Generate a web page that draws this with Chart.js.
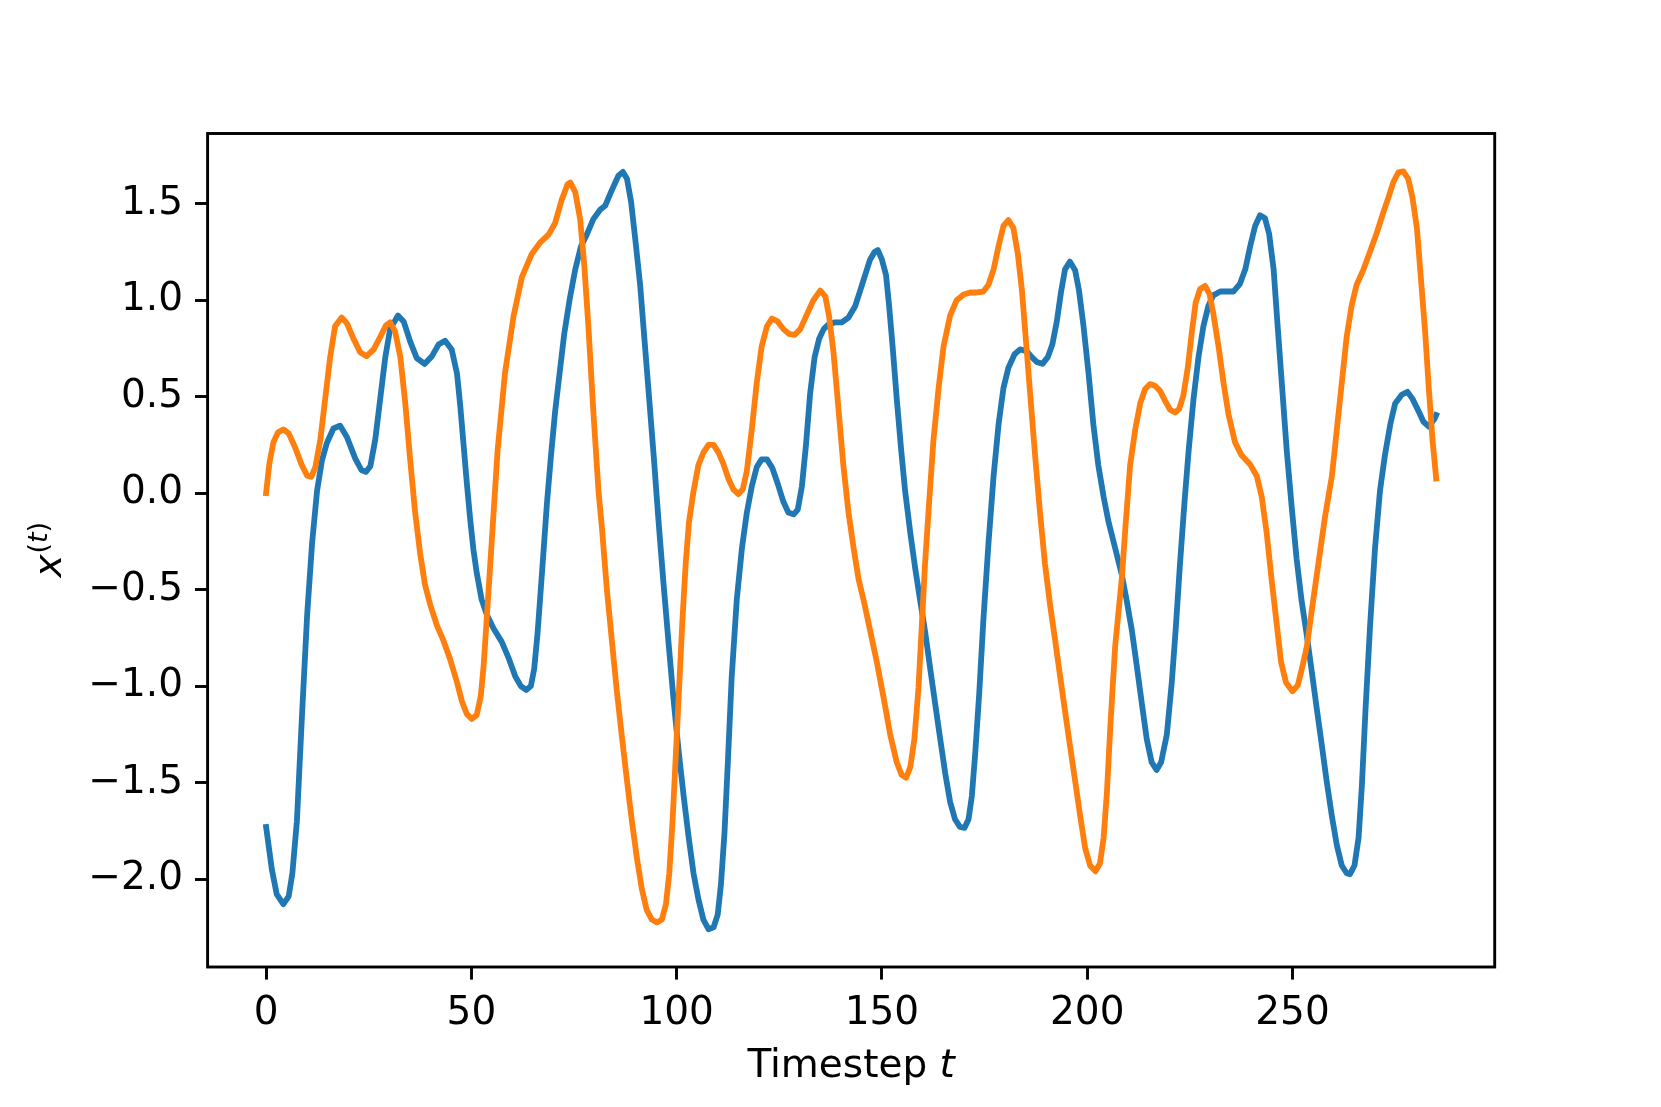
<!DOCTYPE html>
<html>
<head>
<meta charset="utf-8">
<title>x(t) per timestep</title>
<script src="https://cdn.jsdelivr.net/npm/chart.js@4.4.1/dist/chart.umd.min.js"></script>
<style>
  html, body { margin: 0; padding: 0; background: #ffffff; }
  canvas { display: block; }
</style>
</head>
<body>
<canvas id="chart" width="1661" height="1107"></canvas>
<script>
/**
 * Two trajectories x(t).
 * Each series is a list of timesteps and a list of values at those timesteps.
 */
const xTicks = [0, 50, 100, 150, 200, 250];
const yTicks = [-2.0, -1.5, -1.0, -0.5, 0.0, 0.5, 1.0, 1.5];

const blueT = [
  0, 1.4, 2.6, 4.2, 5.5, 6.4, 7.5, 8.7, 10.0, 11.2, 12.4, 13.6, 14.8, 16.4, 18.0, 19.7,
  21.7, 23.2, 24.3, 25.4, 26.6, 27.8, 29.0, 30.2, 32.1, 33.5, 35.1, 36.7, 38.6, 40.4,
  42.0, 43.6, 45.2, 46.5, 47.3, 48.1, 48.9, 49.7, 50.5, 51.3, 52.5, 53.8, 55.4, 57.4,
  59.0, 60.7, 62.05, 63.35, 64.5, 65.3, 66.1, 66.8, 67.6, 68.4, 69.35, 70.4, 71.5, 72.6,
  73.9, 75.3, 76.7, 78.1, 79.7, 81.4, 82.6, 84.2, 85.8, 86.9, 87.9, 88.9, 89.9, 91.1,
  91.9, 93.1, 94.4, 95.6, 96.8, 98.0, 99.2, 100.45, 101.7, 102.9, 104.1, 105.3, 106.5,
  107.75, 109.0, 110.0, 110.8, 111.65, 112.5, 113.4, 114.65, 115.9, 117.1, 118.3, 119.5,
  120.7, 122.0, 123.3, 124.6, 126.0, 127.2, 128.5, 129.5, 130.5, 131.5, 132.5, 133.6,
  134.7, 135.8, 137.0, 138.6, 140.2, 141.85, 143.5, 144.7, 145.9, 147.1, 148.2, 149.0,
  150.0, 151.0, 151.75, 152.6, 153.6, 154.7, 155.65, 156.9, 158.1, 159.3, 160.5, 161.7,
  162.95, 164.2, 165.4, 166.6, 167.8, 169.0, 170.1, 171.1, 171.9, 172.7, 173.7, 174.7,
  175.95, 177.2, 178.4, 179.6, 180.8, 182.3, 183.65, 185.3, 186.5, 187.7, 189.1, 190.4,
  191.5, 192.6, 193.6, 194.6, 195.8, 197.05, 198.0, 199.1, 200.3, 201.5, 202.7, 204.0,
  205.2, 206.8, 208.4, 209.6, 210.9, 212.1, 213.3, 214.5, 215.7, 216.9, 218.0, 219.4,
  220.6, 221.6, 222.6, 223.7, 224.7, 225.9, 227.1, 228.3, 229.5, 230.7, 232.4, 234.0,
  235.6, 237.2, 238.5, 239.7, 240.9, 242.1, 243.3, 244.3, 245.4, 246.3, 247.4, 248.6,
  249.8, 251.0, 252.2, 253.5, 254.7, 255.9, 257.1, 258.3, 259.6, 260.8, 262.0, 263.2,
  264.0, 265.1, 266.1, 266.9, 267.8, 268.9, 270.1, 271.3, 272.5, 273.8, 275.0, 276.6,
  278.0, 279.2, 280.7, 281.9, 283.2, 284.6, 285.0
];
const blueX = [
  -1.73, -1.95, -2.08, -2.13, -2.09, -1.97, -1.70, -1.17, -0.63, -0.26, 0.01, 0.17, 0.26, 0.335, 0.35, 0.29,
  0.18, 0.12, 0.11, 0.14, 0.28, 0.49, 0.70, 0.85, 0.92, 0.89, 0.785, 0.70, 0.67, 0.71,
  0.77, 0.79, 0.745, 0.62, 0.45, 0.25, 0.05, -0.134, -0.293, -0.413, -0.552, -0.632, -0.702, -0.771,
  -0.851, -0.95, -1.0, -1.02, -1.0, -0.91, -0.73, -0.53, -0.293, -0.054, 0.185, 0.424, 0.624, 0.823,
  1.0, 1.16, 1.28, 1.34, 1.42, 1.47, 1.49, 1.57, 1.645, 1.665, 1.63, 1.51, 1.32, 1.08,
  0.865, 0.545, 0.195, -0.15, -0.47, -0.77, -1.06, -1.33, -1.57, -1.78, -1.97, -2.105, -2.21,
  -2.26, -2.25, -2.185, -2.025, -1.76, -1.38, -0.955, -0.55, -0.285, -0.10, 0.035, 0.135,
  0.175, 0.175, 0.13, 0.05, -0.045, -0.10, -0.11, -0.085, 0.035, 0.25, 0.515, 0.705,
  0.80, 0.85, 0.875, 0.885, 0.885, 0.91, 0.97, 1.05, 1.13, 1.21, 1.25, 1.26,
  1.21, 1.13, 0.97, 0.76, 0.49, 0.22, 0.01, -0.205, -0.39, -0.555, -0.715, -0.90,
  -1.09, -1.275, -1.45, -1.60, -1.69, -1.73, -1.735, -1.69, -1.57, -1.355, -1.035, -0.66,
  -0.26, 0.09, 0.355, 0.545, 0.65, 0.72, 0.745, 0.735, 0.705, 0.68, 0.67, 0.705,
  0.77, 0.89, 1.04, 1.16, 1.20, 1.155, 1.05, 0.865, 0.625, 0.355, 0.145, -0.02,
  -0.15, -0.285, -0.42, -0.555, -0.715, -0.90, -1.09, -1.275, -1.395, -1.435, -1.395, -1.25,
  -0.98, -0.69, -0.365, -0.045, 0.22, 0.49, 0.705, 0.865, 0.97, 1.025, 1.045, 1.045,
  1.045, 1.085, 1.16, 1.28, 1.385, 1.44, 1.425, 1.345, 1.16, 0.89, 0.57, 0.22,
  -0.07, -0.34, -0.555, -0.74, -0.925, -1.115, -1.30, -1.49, -1.675, -1.825, -1.93, -1.97,
  -1.975, -1.93, -1.785, -1.515, -1.115, -0.685, -0.285, 0.01, 0.195, 0.355, 0.465, 0.51,
  0.525, 0.49, 0.425, 0.37, 0.345, 0.385, 0.405
];

const orangeT = [
  0, 0.8, 1.8, 2.9, 4.2, 5.5, 7.1, 8.7, 10.0, 11.0, 12.0, 13.2, 14.4, 15.6, 16.8, 18.4,
  19.7, 21.3, 22.9, 24.5, 26.2, 27.8, 29.2, 30.2, 31.4, 32.7, 33.9, 35.1, 36.3, 37.5,
  38.7, 40.0, 41.6, 43.2, 44.8, 46.5, 47.7, 48.9, 50.1, 51.3, 52.3, 53.0, 53.8, 55.2,
  56.4, 58.2, 60.3, 62.3, 64.7, 66.8, 68.8, 70.4, 72.0, 73.4, 74.1, 75.3, 76.5, 77.5,
  78.5, 79.7, 81.0, 81.8, 83.0, 84.2, 85.4, 86.65, 87.9, 89.1, 90.3, 91.5, 92.7, 93.95,
  95.2, 96.4, 97.4, 98.2, 99.0, 99.8, 100.6, 101.4, 102.2, 103.0, 104.1, 105.3, 106.5,
  107.75, 109.0, 110.2, 111.4, 112.6, 113.8, 115.05, 116.1, 117.1, 118.3, 119.5, 120.7,
  122.0, 123.2, 124.6, 126.0, 127.4, 128.7, 130.1, 131.7, 133.3, 135.0, 136.2, 137.1,
  138.2, 139.4, 140.6, 141.85, 143.1, 144.3, 145.7, 147.1, 148.75, 150.4, 152.0, 153.6,
  154.8, 155.9, 156.9, 157.9, 158.9, 159.7, 160.5, 161.5, 162.55, 163.8, 165.0, 166.6,
  168.2, 169.9, 171.5, 173.1, 174.7, 175.95, 177.2, 178.4, 179.6, 180.8, 182.0, 183.1,
  184.1, 185.0, 186.1, 187.3, 188.5, 189.7, 190.96, 192.2, 193.8, 195.4, 197.05, 198.3,
  199.5, 200.7, 202.0, 203.1, 204.0, 204.8, 205.6, 206.8, 208.4, 209.4, 210.45, 211.7,
  212.9, 214.1, 215.3, 216.5, 217.75, 219.0, 220.2, 221.4, 222.4, 223.4, 224.5, 225.5,
  226.4, 227.5, 228.7, 229.8, 230.7, 232.0, 233.2, 234.4, 236.0, 237.6, 239.7, 241.3,
  242.5, 243.7, 244.9, 246.2, 247.2, 248.4, 250.0, 251.3, 252.4, 253.5, 254.7, 256.3,
  257.9, 259.6, 260.8, 262.0, 263.2, 264.4, 265.6, 267.3, 268.9, 270.5, 272.1, 273.4,
  274.6, 275.8, 277.0, 278.2, 279.2, 280.3, 281.2, 282.3, 283.2, 284.1, 285.0
];
const orangeX = [
  0.0, 0.155, 0.265, 0.315, 0.33, 0.31, 0.235, 0.145, 0.09, 0.085, 0.135, 0.275, 0.49, 0.705, 0.865, 0.91,
  0.88, 0.80, 0.73, 0.71, 0.745, 0.81, 0.87, 0.885, 0.84, 0.705, 0.465, 0.17, -0.10, -0.31,
  -0.475, -0.58, -0.685, -0.765, -0.86, -0.98, -1.08, -1.145, -1.17, -1.15, -1.05, -0.89, -0.63, -0.17,
  0.225, 0.625, 0.92, 1.12, 1.24, 1.30, 1.34, 1.40, 1.52, 1.60, 1.61, 1.56, 1.42, 1.18,
  0.865, 0.425, 0.0, -0.18, -0.50, -0.76, -1.02, -1.26, -1.49, -1.70, -1.89, -2.05, -2.16, -2.21,
  -2.225, -2.21, -2.13, -1.97, -1.70, -1.355, -1.01, -0.66, -0.365, -0.15, 0.01, 0.145, 0.21,
  0.25, 0.25, 0.21, 0.15, 0.075, 0.02, -0.005, 0.02, 0.115, 0.33, 0.57, 0.76,
  0.865, 0.905, 0.89, 0.85, 0.825, 0.82, 0.85, 0.925, 1.0, 1.05, 1.02, 0.92,
  0.73, 0.44, 0.145, -0.10, -0.285, -0.445, -0.57, -0.71, -0.875, -1.06, -1.25, -1.395,
  -1.46, -1.475, -1.42, -1.275, -1.01, -0.69, -0.365, -0.045, 0.275, 0.545, 0.76, 0.92,
  1.0, 1.03, 1.04, 1.04, 1.045, 1.08, 1.16, 1.28, 1.385, 1.415, 1.375, 1.24,
  1.05, 0.81, 0.515, 0.195, -0.10, -0.365, -0.58, -0.765, -1.01, -1.25, -1.49, -1.675,
  -1.84, -1.93, -1.96, -1.92, -1.785, -1.55, -1.22, -0.795, -0.445, -0.15, 0.145, 0.33,
  0.465, 0.54, 0.565, 0.557, 0.53, 0.477, 0.432, 0.418, 0.437, 0.504, 0.651, 0.838,
  0.986, 1.058, 1.074, 1.031, 0.932, 0.758, 0.571, 0.41, 0.263, 0.196, 0.148, 0.089,
  -0.018, -0.205, -0.446, -0.687, -0.874, -0.981, -1.027, -0.995, -0.90, -0.794, -0.607, -0.366,
  -0.125, 0.089, 0.33, 0.571, 0.811, 0.972, 1.079, 1.16, 1.253, 1.347, 1.454, 1.534,
  1.614, 1.663, 1.668, 1.628, 1.534, 1.374, 1.133, 0.838, 0.544, 0.276, 0.076
];

// Axis limits (matplotlib style 5% margins around the data)
const X_MIN = -14.25;
const X_MAX = 299.25;
const Y_MIN = -2.456;
const Y_MAX = 1.864;

const FONT = 'DejaVu Sans';
const FONT_SIZE = 39;
const LINE_WIDTH = 5.8;

/**
 * Pair a list of timesteps with a list of values
 */
function toPoints(ts, xs) {
  return ts.map((t, i) => ({ x: t, y: xs[i] }));
}

/**
 * Format a tick value with a real minus sign
 */
function fmtTick(value, digits) {
  const s = digits ? Number(value).toFixed(digits) : String(value);
  return s.replace('-', '\u2212');
}

// Draws the box around the plot and the two axis titles (they mix italic text)
const framePlugin = {
  id: 'frame',
  afterDraw(chart) {
    const { ctx, chartArea: a } = chart;
    ctx.save();
    ctx.strokeStyle = '#000000';
    ctx.lineWidth = 2.9;
    ctx.strokeRect(a.left, a.top, a.right - a.left, a.bottom - a.top);

    ctx.fillStyle = '#000000';
    ctx.textBaseline = 'alphabetic';
    ctx.textAlign = 'left';

    // x axis title: "Timestep t"
    const normal = `${FONT_SIZE}px "${FONT}"`;
    const italic = `oblique ${FONT_SIZE}px "${FONT}"`;
    ctx.font = normal;
    const w1 = ctx.measureText('Timestep ').width;
    ctx.font = italic;
    const w2 = ctx.measureText('t').width;
    const cx = (a.left + a.right) / 2;
    const x0 = cx - (w1 + w2) / 2;
    ctx.font = normal;
    ctx.fillText('Timestep ', x0, 1077);
    ctx.font = italic;
    ctx.fillText('t', x0 + w1, 1077);

    // y axis title: x^(t), rotated
    const sup = Math.round(FONT_SIZE * 0.7);
    const supFont = `${sup}px "${FONT}"`;
    const supItalic = `oblique ${sup}px "${FONT}"`;
    ctx.translate(61, (a.top + a.bottom) / 2);
    ctx.rotate(-Math.PI / 2);
    ctx.font = italic;
    const wx = ctx.measureText('x').width;
    ctx.font = supFont;
    const wp = ctx.measureText('(').width;
    const wq = ctx.measureText(')').width;
    ctx.font = supItalic;
    const wt = ctx.measureText('t').width;
    let px = -(wx + wp + wt + wq) / 2;
    ctx.font = italic;
    ctx.fillText('x', px, 0);
    px += wx + 1;
    ctx.font = supFont;
    ctx.fillText('(', px, -14);
    px += wp;
    ctx.font = supItalic;
    ctx.fillText('t', px, -14);
    px += wt;
    ctx.font = supFont;
    ctx.fillText(')', px, -14);
    ctx.restore();
  }
};

/**
 * Common style for one trajectory line
 */
function lineDataset(label, ts, xs, color, order) {
  return {
    label: label,
    data: toPoints(ts, xs),
    borderColor: color,
    borderWidth: LINE_WIDTH,
    pointRadius: 0,
    tension: 0,
    fill: false,
    borderCapStyle: 'square',
    borderJoinStyle: 'round',
    order: order
  };
}

/**
 * Axis with outward tick marks only (box is drawn by the plugin)
 */
function axisOptions(min, max, tickValues, digits, padding, fit) {
  return {
    type: 'linear',
    min: min,
    max: max,
    afterBuildTicks: (scale) => { scale.ticks = tickValues.map(v => ({ value: v })); },
    afterFit: fit,
    grid: {
      drawOnChartArea: false,
      drawTicks: true,
      tickLength: 12.6,
      tickWidth: 2.9,
      tickColor: '#000000'
    },
    border: { display: false },
    ticks: {
      color: '#000000',
      padding: padding,
      maxRotation: 0,
      font: { family: FONT, size: FONT_SIZE },
      callback: (value) => fmtTick(value, digits)
    }
  };
}

const ctx = document.getElementById('chart').getContext('2d');

new Chart(ctx, {
  type: 'line',
  data: {
    datasets: [
      lineDataset('x1', blueT, blueX, '#1f77b4', 2),
      lineDataset('x2', orangeT, orangeX, '#ff7f0e', 1)
    ]
  },
  options: {
    responsive: false,
    devicePixelRatio: 1,
    animation: false,
    layout: {
      padding: { left: 0, right: 166.3, top: 133.5, bottom: 0 }
    },
    plugins: {
      legend: { display: false },
      tooltip: { enabled: false }
    },
    scales: {
      x: axisOptions(X_MIN, X_MAX, xTicks, 0, 11, (scale) => { scale.height = 1107 - 967; }),
      y: axisOptions(Y_MIN, Y_MAX, yTicks, 1, 12, (scale) => { scale.width = 207.6; })
    }
  },
  plugins: [framePlugin]
});
</script>
</body>
</html>
